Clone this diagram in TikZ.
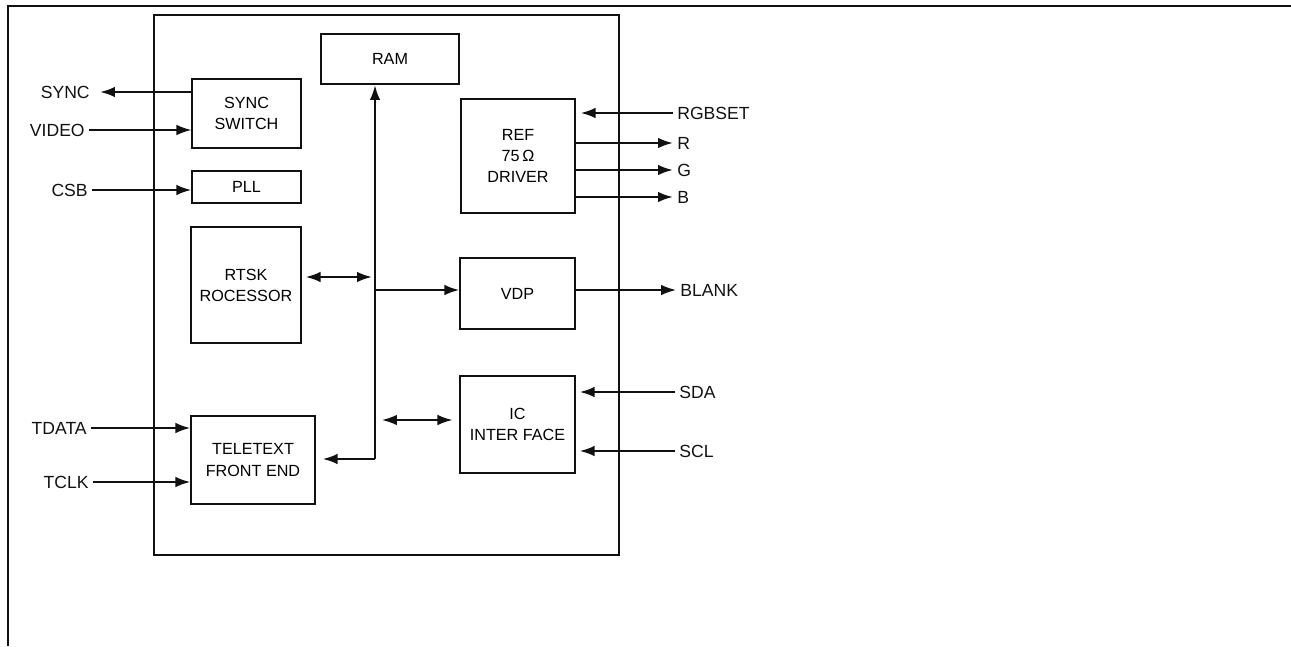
\documentclass[tikz,border=0pt]{standalone}
\usepackage{fontspec}
\setmainfont{Liberation Sans}
\usetikzlibrary{arrows.meta,calc}
\definecolor{ink}{HTML}{111111}
\begin{document}
\begin{tikzpicture}[x=.2mm,y=-.2mm,>={Latex[length=8.5pt,width=6pt]},
  font=\fontsize{9.2}{12}\selectfont,
  blk/.style={draw=ink,line width=.65pt,align=center,inner sep=0pt},
  pin/.style={inner sep=.8mm,text=ink,font=\fontsize{10}{12}\selectfont},
  sig/.style={ink,line width=1.3pt},
  wire/.style={ink,line width=.9pt}]
\useasboundingbox (0,0) rectangle (1291,646);
\draw[ink,line width=.8pt] (1291,6)--(8,6)--(8,646);
\node[blk,minimum width=93mm,minimum height=108mm] (chip) at (386.5,285) {};
\node[blk,line width=1.2pt,minimum width=27.6mm,minimum height=10mm] (ram) at (390,59) {RAM};
\node[blk,minimum width=21.8mm,minimum height=13.8mm] (sync) at (246.5,113.5) {SYNC\\SWITCH};
\node[blk,minimum width=21.8mm,minimum height=6.4mm] (pll) at (246.5,187) {PLL};
\node[blk,minimum width=22mm,minimum height=23.2mm] (rtsk) at (246,285) {RTSK\\ROCESSOR};
\node[blk,minimum width=24.8mm,minimum height=17.6mm] (tele) at (253,460) {TELETEXT\\FRONT END};
\node[blk,minimum width=22.8mm,minimum height=22.8mm] (ref) at (518,156) {REF\\75\,Ω\\DRIVER};
\node[blk,minimum width=23mm,minimum height=14.2mm] (vdp) at (517.5,293.5) {VDP};
\node[blk,minimum width=23mm,minimum height=19.4mm] (ic) at (517.5,424.5) {IC\\INTER FACE};
\node[pin,anchor=east] (syncout) at (94,92) {SYNC};
\node[pin,anchor=east] (video) at (89,130) {VIDEO};
\node[pin,anchor=east] (csb) at (92,190) {CSB};
\node[pin,anchor=east] (tdata) at (91,428) {TDATA};
\node[pin,anchor=east] (tclk) at (93,482) {TCLK};
\node[pin,anchor=west] (rgbset) at (673,113) {RGBSET};
\node[pin,anchor=west] (blank) at (676,290) {BLANK};
\draw[sig,->,shorten >=1.2mm] (syncout-|sync.west) -- (syncout);
\draw[wire,->] (video) -- (video-|sync.west);
\draw[sig,->] (csb) -- (csb-|pll.west);
\draw[sig,->] (tdata) -- (tdata-|tele.west);
\draw[sig,->] (tclk) -- (tclk-|tele.west);
\draw[sig,->,shorten >=1mm] (rgbset) -- (rgbset-|ref.east);
\foreach \n/\y in {R/143,G/170,B/197}{\node[pin,anchor=west] (\n) at (673,\y) {\n};\draw[sig,->] (\n-|ref.east) -- (\n);}
\draw[wire,->] (blank-|vdp.east) -- (blank);
\foreach \n/\y in {SDA/392,SCL/451}{\node[pin,anchor=west] (\n) at (675,\y) {\n};\draw[sig,->,shorten >=.8mm] (\n) -- (\n-|ic.east);}
\coordinate (busbot) at (375,459);
\coordinate (bustap) at (375,290);
\coordinate (rbus) at (375,277);
\coordinate (icbus) at (375,420);
\draw[sig,->] (busbot) -- (busbot|-ram.south);
\draw[sig,->,shorten >=1.4mm] (busbot) -- (busbot-|tele.east);
\draw[sig,->] (bustap) -- (bustap-|vdp.west);
\draw[sig,<->,shorten <=.8mm,shorten >=.6mm] (rbus-|rtsk.east) -- (rbus);
\draw[wire,<->,shorten <=1.4mm,shorten >=1.4mm] (icbus) -- (icbus-|ic.west);
\end{tikzpicture}
\end{document}
